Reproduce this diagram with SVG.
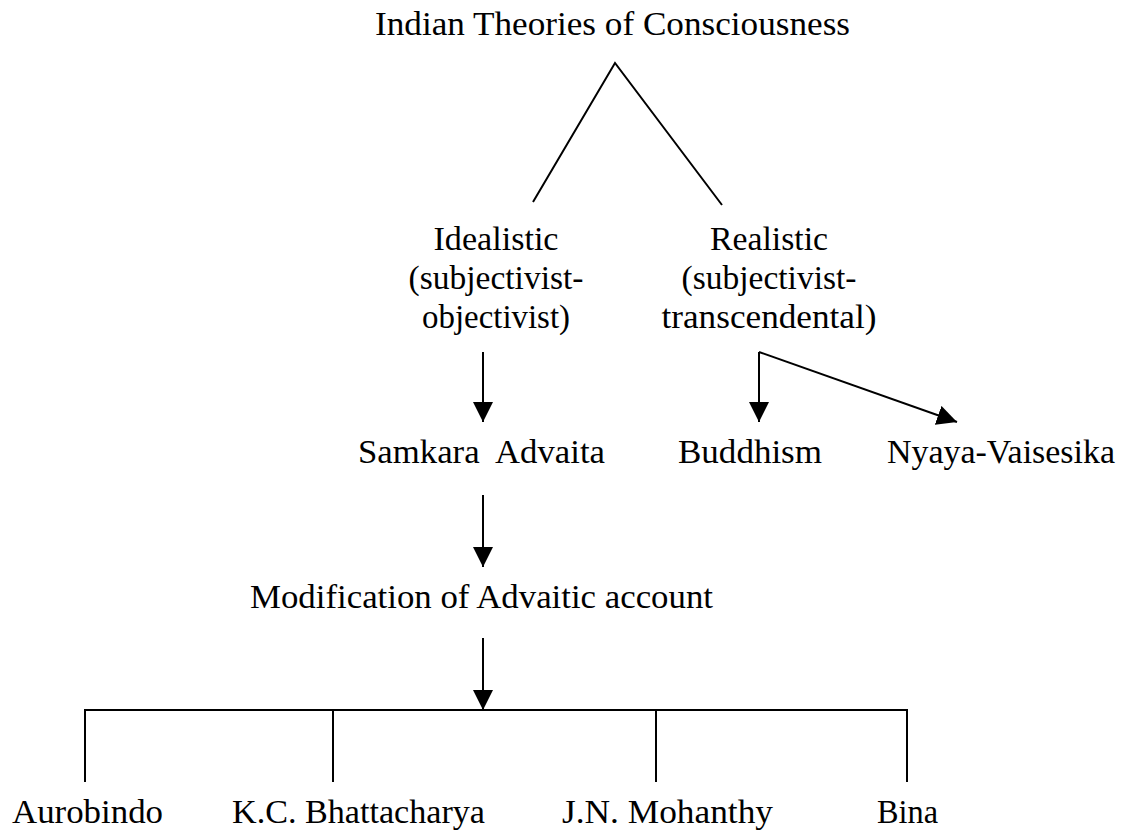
<svg xmlns="http://www.w3.org/2000/svg" width="1135" height="833" viewBox="0 0 1135 833">
  <style>
    .t { font-family: "Liberation Serif", "Times New Roman", serif; font-size: 34px; fill: #000; }
    .c { text-anchor: middle; }
    .ln { fill: none; stroke: #000; stroke-width: 2; stroke-linejoin: miter; stroke-linecap: butt; }
  </style>
  <defs>
    <marker id="ah" viewBox="0 0 20 20" markerUnits="userSpaceOnUse" markerWidth="20" markerHeight="20" refX="20" refY="10" orient="auto">
      <path d="M0,0 L20,10 L0,20 Z" fill="#000"/>
    </marker>
  </defs>
  <rect width="1135" height="833" fill="#fff"/>

  <g id="connectors">
    <polyline class="ln" points="533,202 615,63 722,205"/>
    <line class="ln" x1="483" y1="352" x2="483" y2="422" marker-end="url(#ah)"/>
    <line class="ln" x1="759" y1="352" x2="759" y2="422" marker-end="url(#ah)"/>
    <line class="ln" x1="759" y1="352" x2="957" y2="422" marker-end="url(#ah)"/>
    <line class="ln" x1="483" y1="495" x2="483" y2="567" marker-end="url(#ah)"/>
    <line class="ln" x1="483" y1="638" x2="483" y2="710" marker-end="url(#ah)"/>
    <path class="ln" d="M85,782 V710 H907 V782"/>
    <line class="ln" x1="333" y1="710" x2="333" y2="782"/>
    <line class="ln" x1="656" y1="710" x2="656" y2="782"/>
  </g>

  <g id="node-root">
    <text class="t" x="375" y="35" textLength="475" lengthAdjust="spacingAndGlyphs">Indian Theories of Consciousness</text>
  </g>
  <g id="node-idealistic">
    <text class="t c" x="496" y="250" textLength="125" lengthAdjust="spacingAndGlyphs">Idealistic</text>
    <text class="t c" x="496" y="289" textLength="175" lengthAdjust="spacingAndGlyphs">(subjectivist-</text>
    <text class="t c" x="496" y="328" textLength="148" lengthAdjust="spacingAndGlyphs">objectivist)</text>
  </g>
  <g id="node-realistic">
    <text class="t c" x="769" y="250" textLength="118" lengthAdjust="spacingAndGlyphs">Realistic</text>
    <text class="t c" x="769" y="289" textLength="175" lengthAdjust="spacingAndGlyphs">(subjectivist-</text>
    <text class="t c" x="769" y="328" textLength="215" lengthAdjust="spacingAndGlyphs">transcendental)</text>
  </g>
  <g id="node-samkara">
    <text class="t" x="358" y="463" textLength="247" lengthAdjust="spacingAndGlyphs" xml:space="preserve">Samkara  Advaita</text>
  </g>
  <g id="node-buddhism">
    <text class="t" x="678" y="463" textLength="144" lengthAdjust="spacingAndGlyphs">Buddhism</text>
  </g>
  <g id="node-nyaya">
    <text class="t" x="887" y="463" textLength="228" lengthAdjust="spacingAndGlyphs">Nyaya-Vaisesika</text>
  </g>
  <g id="node-modification">
    <text class="t" x="250" y="608" textLength="463" lengthAdjust="spacingAndGlyphs">Modification of Advaitic account</text>
  </g>
  <g id="node-aurobindo">
    <text class="t" x="12" y="823" textLength="151" lengthAdjust="spacingAndGlyphs">Aurobindo</text>
  </g>
  <g id="node-kcb">
    <text class="t" x="232" y="823" textLength="253" lengthAdjust="spacingAndGlyphs">K.C. Bhattacharya</text>
  </g>
  <g id="node-jnm">
    <text class="t" x="562" y="823" textLength="211" lengthAdjust="spacingAndGlyphs">J.N. Mohanthy</text>
  </g>
  <g id="node-bina">
    <text class="t" x="877" y="823" textLength="61" lengthAdjust="spacingAndGlyphs">Bina</text>
  </g>
</svg>
